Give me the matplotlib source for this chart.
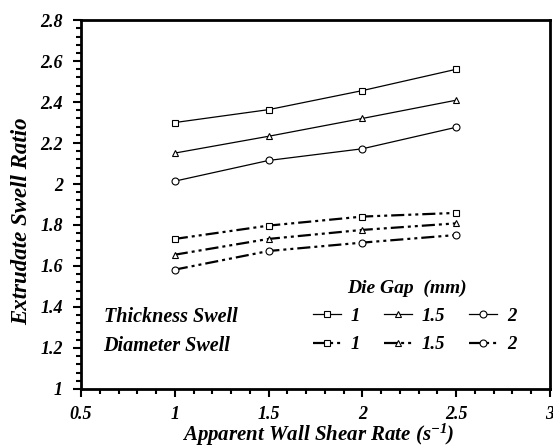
import matplotlib
matplotlib.use('Agg')
import matplotlib.pyplot as plt
from matplotlib.ticker import MultipleLocator

# shear rate (s^-1)
shear_rate = [1.0, 1.5, 2.0, 2.5]

# thickness swell for each die gap (mm)
thick_1 = [2.30, 2.363, 2.456, 2.56]
thick_15 = [2.151, 2.233, 2.32, 2.409]
thick_2 = [2.014, 2.115, 2.172, 2.277]

# diameter swell for each die gap (mm)
diam_1 = [1.732, 1.797, 1.841, 1.859]
diam_15 = [1.655, 1.732, 1.776, 1.808]
diam_2 = [1.582, 1.673, 1.714, 1.751]

gap_labels = ['1', '1.5', '2']
markers = ['s', '^', 'o']

plt.rcParams['font.family'] = 'Liberation Serif'
plt.rcParams['font.style'] = 'italic'
plt.rcParams['font.weight'] = 'bold'
plt.rcParams['axes.labelweight'] = 'bold'
plt.rcParams['mathtext.fontset'] = 'custom'
plt.rcParams['mathtext.rm'] = 'Liberation Serif:italic:bold'
plt.rcParams['mathtext.it'] = 'Liberation Serif:italic:bold'
plt.rcParams['mathtext.bf'] = 'Liberation Serif:italic:bold'

fig = plt.figure(figsize=(5.53, 4.47), dpi=100)
ax = fig.add_axes([0.1465, 0.13, 0.848, 0.825])

dash_style = (0, (5.9, 1.8, 1.35, 1.8, 1.35, 1.8))
mk = dict(markersize=5, markerfacecolor='white', markeredgecolor='black', markeredgewidth=0.8)

handles = []
for thick, diam, m in zip([thick_1, thick_15, thick_2], [diam_1, diam_15, diam_2], markers):
    h1, = ax.plot(shear_rate, thick, color='black', lw=0.9, marker=m, **mk)
    h2, = ax.plot(shear_rate, diam, color='black', lw=1.6, linestyle=dash_style, marker=m, **mk)
    handles += [h1, h2]

labels = [g for g in gap_labels for _ in range(2)]
ax.legend(handles, labels, ncol=3, frameon=False, loc='upper left',
          bbox_to_anchor=(0.478, 0.24), fontsize=13.5, handlelength=1.5,
          handletextpad=0.5, columnspacing=1.3, labelspacing=0.6,
          borderaxespad=0)

ax.text(0.048, 0.196, 'Thickness Swell', transform=ax.transAxes, fontsize=14.5, va='center')
ax.text(0.048, 0.117, 'Diameter Swell', transform=ax.transAxes, fontsize=14.5, va='center')
ax.text(0.567, 0.272, 'Die Gap  (mm)', transform=ax.transAxes, fontsize=14, va='center')

ax.set_xlim(0.5, 3)
ax.set_ylim(1, 2.8)
ax.xaxis.set_major_locator(MultipleLocator(0.5))
ax.xaxis.set_minor_locator(MultipleLocator(0.1))
ax.yaxis.set_major_locator(MultipleLocator(0.2))
ax.yaxis.set_minor_locator(MultipleLocator(0.04))
ax.xaxis.set_major_formatter(plt.FuncFormatter(lambda v, p: f'{v:g}'))
ax.yaxis.set_major_formatter(plt.FuncFormatter(lambda v, p: f'{v:g}'))
ax.tick_params(which='both', direction='out', width=1.5, labelsize=13)
ax.tick_params(which='major', length=6, pad=7)
ax.tick_params(which='minor', length=3.5)
ax.tick_params(axis='x', which='major', pad=6)
for s in ax.spines.values():
    s.set_linewidth(2)

ax.set_xlabel(r'Apparent Wall Shear Rate (s$^{-1}$)', fontsize=15)
ax.set_ylabel('Extrudate Swell Ratio', fontsize=16.5)
ax.xaxis.set_label_coords(0.505, -0.088)
ax.yaxis.set_label_coords(-0.126, 0.454)
ax.yaxis.label.set_verticalalignment('center')

fig.savefig('out.png', dpi=100)
